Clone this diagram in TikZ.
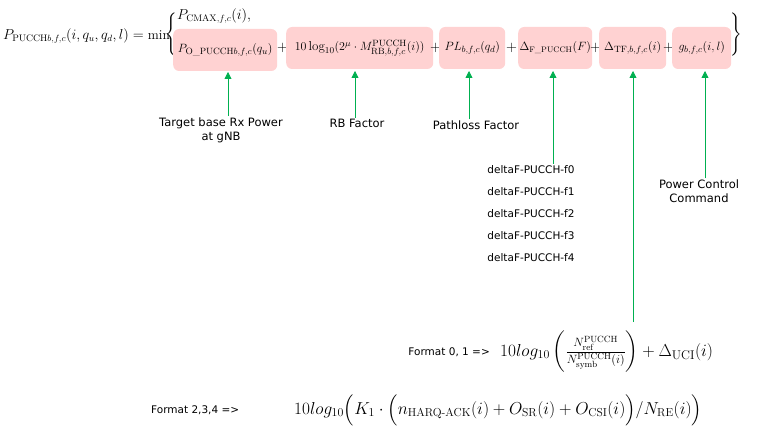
\documentclass[tikz,border=0pt]{standalone}
\usepackage{fontspec}
\usepackage{amsmath}
\usetikzlibrary{arrows.meta}
\newfontfamily\lab{DejaVu Sans}
\definecolor{grn}{RGB}{0,176,80}
\definecolor{pnk}{RGB}{255,210,210}
\begin{document}
\begin{tikzpicture}[x=1pt,y=-1pt,
 term/.style={fill=pnk,rounded corners=6pt,inner sep=0pt,minimum height=42pt,anchor=west,font=\fontsize{13}{15}\selectfont},
 txt/.style={inner sep=0pt,font=\fontsize{13.5}{15}\selectfont},
 lbl/.style={font=\lab\fontsize{11.5}{14}\selectfont,align=center,inner sep=1pt},
 arr/.style={draw=grn,line width=0.8pt,-{Triangle[width=7pt,length=7pt]}}]
\useasboundingbox (0,0) rectangle (770,435);
\node[txt,anchor=west] (lhs) at (3,36) {$P_{\text{PUCCH}b,f,c}(i,q_u,q_d,l)=\min$};
\node[txt,anchor=west] (brace) at (165,34) {$\left\{\vphantom{\rule{0pt}{26pt}}\right.$};
\node[txt,anchor=west] (cmax) at (177,16) {$P_{\text{CMAX},f,c}(i),$};
\node[term,minimum width=104pt] (t1) at (173,50) {$P_{\text{O\_PUCCH}b,f,c}(q_u)$};
\node[txt,anchor=west] (p1) at (277,48) {$+$};
\node[term,minimum width=147pt] (t2) at (286,48) {$10\log_{10}(2^\mu\cdot M^{\text{PUCCH}}_{\text{RB},b,f,c}(i))$};
\node[txt,anchor=west] (p2) at (430,48) {$+$};
\node[term,minimum width=66pt] (t3) at (439,48) {$PL_{b,f,c}(q_d)$};
\node[txt,anchor=west] (p3) at (506,48) {$+$};
\node[term,minimum width=74pt] (t4) at (518,48) {\fontsize{12}{14}\selectfont$\Delta_{\text{F\_PUCCH}}(F)$};
\node[txt,anchor=west] (p4) at (590,48) {$+$};
\node[term,minimum width=67pt] (t5) at (599,48) {$\Delta_{\text{TF},b,f,c}(i)$};
\node[txt,anchor=west] (p5) at (663,48) {$+$};
\node[term,minimum width=59pt] (t6) at (672,48) {$g_{b,f,c}(i,l)$};
\node[txt,anchor=west] (rbrace) at (729,34) {$\left.\vphantom{\rule{0pt}{26pt}}\right\}$};

\node[lbl] (l1) at (221,130) {Target base Rx Power\\at gNB};
\node[lbl] (l2) at (357,123) {RB Factor};
\node[lbl] (l3) at (476,125) {Pathloss Factor};
\node[lbl,align=left,anchor=north,font=\lab\fontsize{10.5}{13}\selectfont] (l4) at (531,164) {deltaF-PUCCH-f0\\[9pt]deltaF-PUCCH-f1\\[9pt]deltaF-PUCCH-f2\\[9pt]deltaF-PUCCH-f3\\[9pt]deltaF-PUCCH-f4};
\node[lbl] (l6) at (699,191) {Power Control\\Command};
\node[lbl,anchor=east,font=\lab\fontsize{10.5}{13}\selectfont] (f01) at (491,352) {Format 0, 1 =>};
\node[anchor=west,inner sep=0pt,font=\fontsize{18}{21}\selectfont] (e1) at (500,352) {$10log_{10}\left(\frac{N^{\text{PUCCH}}_{\text{ref}}}{N^{\text{PUCCH}}_{\text{symb}}(i)}\right)+\Delta_{\text{UCI}}(i)$};
\node[lbl,anchor=west,font=\lab\fontsize{10.5}{13}\selectfont] (f234) at (150,410) {Format 2,3,4 =>};
\node[anchor=west,inner sep=0pt,font=\fontsize{16.5}{19}\selectfont] (e2) at (294,410) {$10log_{10}\Big(K_1\cdot\Big(n_{\text{HARQ-ACK}}(i)+O_{\text{SR}}(i)+O_{\text{CSI}}(i)\Big)/N_{\text{RE}}(i)\Big)$};

\draw[arr] (l1.north -| 228,0) -- (228,72);
\draw[arr] (l2.north -| 355,0) -- (355,71);
\draw[arr] (l3.north -| 469,0) -- (469,71);
\draw[arr] (l4.north -| 553,0) -- (553,71);
\draw[arr] (633,322) -- (633,71);
\draw[arr] (l6.north -| 705,0) -- (705,71);
\end{tikzpicture}
\end{document}
